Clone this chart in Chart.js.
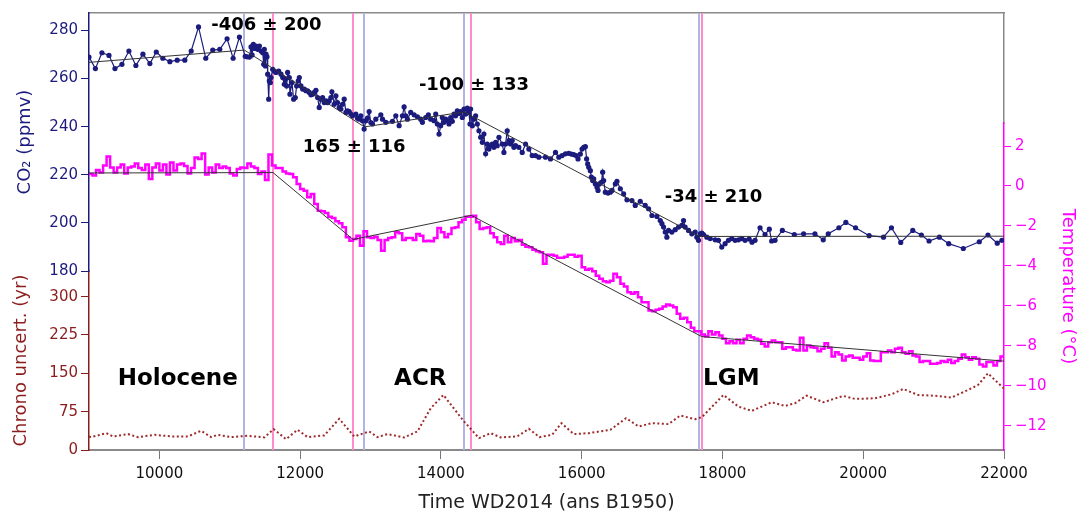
<!DOCTYPE html>
<html>
<head>
<meta charset="utf-8">
<script src="https://cdn.jsdelivr.net/npm/chart.js@4.4.1/dist/chart.umd.min.js"></script>
<style>
  body { margin: 0; background: #fff; }
  #wrap { width: 1079px; height: 515px; }
</style>
</head>
<body>
<div id="wrap"><canvas id="chart" width="1079" height="515"></canvas></div>
<script>
// ---- data ----
const co2Years = [
  9000, 9091, 9184, 9284, 9369, 9468, 9567, 9666, 9766, 9865, 9956, 10049, 10149, 10253, 10361, 10452,
  10556, 10659, 10758, 10858, 10962, 11048, 11137, 11220, 11245, 11279, 11302, 11317, 11335, 11355, 11373,
  11397, 11421, 11444, 11468, 11482, 11491, 11506, 11515, 11529, 11539, 11553, 11562, 11577, 11586, 11610,
  11633, 11657, 11695, 11728, 11752, 11775, 11789, 11808, 11822, 11846, 11855, 11884, 11907, 11931, 11950,
  11973, 11988, 12011, 12035, 12059, 12082, 12106, 12130, 12153, 12177, 12201, 12224, 12248, 12271, 12295,
  12319, 12342, 12366, 12390, 12413, 12437, 12451, 12484, 12508, 12531, 12555, 12579, 12602, 12626, 12650,
  12673, 12697, 12720, 12744, 12791, 12815, 12839, 12862, 12886, 12909, 12933, 12957, 12980, 13004, 13028,
  13075, 13146, 13170, 13217, 13311, 13359, 13406, 13453, 13477, 13500, 13524, 13571, 13619, 13666, 13713,
  13737, 13784, 13822, 13855, 13902, 13926, 13949, 13973, 13997, 14020, 14044, 14068, 14091, 14115, 14139,
  14162, 14186, 14209, 14233, 14257, 14280, 14304, 14328, 14351, 14375, 14398, 14413, 14422, 14446, 14469,
  14493, 14517, 14540, 14564, 14588, 14611, 14635, 14658, 14682, 14706, 14729, 14753, 14777, 14800, 14824,
  14871, 14895, 14918, 14942, 14966, 14989, 15013, 15037, 15060, 15107, 15155, 15202, 15249, 15297, 15344,
  15391, 15486, 15557, 15628, 15675, 15722, 15769, 15816, 15854, 15887, 15920, 15948, 15981, 16005, 16029,
  16052, 16070, 16085, 16100, 16123, 16137, 16156, 16171, 16194, 16218, 16232, 16251, 16279, 16298, 16312,
  16336, 16374, 16407, 16431, 16478, 16501, 16549, 16596, 16643, 16714, 16761, 16832, 16903, 16950, 16998,
  17069, 17116, 17140, 17163, 17187, 17210, 17234, 17281, 17329, 17376, 17423, 17447, 17470, 17518, 17565,
  17612, 17636, 17660, 17683, 17707, 17730, 17778, 17825, 17896, 17943, 17990, 18038, 18085, 18132, 18180,
  18227, 18274, 18321, 18380, 18420, 18463, 18534, 18605, 18666, 18699, 18747, 18851, 19021, 19153, 19314,
  19432, 19503, 19654, 19753, 19891, 20084, 20288, 20401, 20533, 20704, 20826, 20935, 21082, 21214, 21422,
  21649, 21772, 21904, 21970
];
const co2Values = [
  268.9, 264.1, 270.7, 269.6, 264.1, 265.9, 271.4, 265.4, 270.1, 266.2, 271.0, 268.4, 267.0, 267.6, 267.6, 271.4,
  281.4, 268.4, 271.8, 272.1, 276.5, 268.4, 277.2, 269.2, 269.0, 268.9, 273.1, 269.8, 274.2, 272.5, 273.5,
  272.1, 273.5, 271.4, 270.7, 265.9, 272.1, 265.2, 270.1, 269.0, 261.8, 251.4, 259.0, 258.3, 260.4, 263.8,
  263.1, 262.5, 263.1, 261.8, 260.4, 257.6, 259.7, 256.9, 262.5, 260.4, 253.5, 258.3, 251.4, 252.1, 256.9,
  259.0, 260.4, 256.9, 255.6, 255.6, 254.9, 254.9, 254.2, 253.2, 253.5, 254.2, 255.1, 252.1, 248.0, 251.4,
  252.1, 250.0, 250.7, 250.0, 250.7, 252.1, 254.5, 249.3, 252.8, 250.0, 248.0, 247.3, 249.3, 251.4, 245.9,
  246.6, 246.3, 245.2, 244.5, 245.2, 243.5, 243.1, 244.5, 242.4, 239.0, 242.4, 243.5, 246.3, 241.7, 241.1,
  243.1, 244.9, 243.1, 241.8, 242.2, 244.5, 240.4, 244.5, 248.2, 244.5, 243.1, 245.9, 244.9, 244.1, 243.1,
  241.8, 243.8, 244.9, 243.1, 242.5, 245.2, 241.1, 236.9, 240.4, 243.8, 241.8, 243.1, 242.5, 241.1, 243.8,
  242.2, 245.2, 244.5, 246.6, 245.5, 246.3, 243.8, 247.3, 245.2, 247.7, 245.9, 241.1, 247.3, 240.4, 243.1,
  244.5, 241.1, 238.3, 235.6, 233.5, 236.9, 228.7, 232.8, 230.7, 232.1, 232.8, 231.4, 233.5, 232.1, 235.6,
  232.8, 229.3, 232.8, 238.3, 234.2, 232.8, 234.2, 231.4, 232.1, 231.4, 229.3, 232.8, 230.7, 228.0, 228.0,
  227.3, 227.3, 226.6, 229.3, 227.3, 228.0, 228.7, 228.9, 228.6, 228.4, 228.0, 226.6, 228.6, 230.7, 231.4,
  231.7, 226.6, 224.5, 223.1, 221.7, 219.0, 217.6, 218.3, 216.2, 214.8, 213.5, 216.2, 216.9, 221.1, 217.6,
  212.8, 212.4, 212.8, 213.5, 216.2, 217.3, 214.2, 212.1, 209.6, 209.3, 207.3, 209.0, 207.3, 205.9, 203.1,
  202.7, 201.0, 199.7, 198.3, 196.2, 194.1, 196.9, 196.2, 197.2, 198.3, 199.0, 201.0, 198.3, 196.9, 195.5,
  196.2, 194.1, 192.8, 195.5, 195.8, 195.2, 194.1, 193.5, 193.0, 192.8, 190.0, 191.4, 192.8, 193.5, 192.8,
  193.0, 193.5, 192.8, 193.3, 192.0, 192.8, 198.0, 195.2, 197.4, 192.5, 192.8, 196.9, 195.2, 195.5, 195.5,
  193.0, 195.5, 198.0, 200.2, 198.0, 194.7, 194.1, 198.0, 191.9, 196.9, 195.0, 192.5, 194.1, 191.4, 189.4,
  192.2, 195.0, 191.6, 192.8
];

const tempYears = [
  9000, 9050, 9100, 9150, 9200, 9250, 9300, 9350, 9400, 9450,
  9500, 9550, 9600, 9650, 9700, 9750, 9800, 9850, 9900, 9950,
  10000, 10050, 10100, 10150, 10200, 10250, 10300, 10350, 10400, 10450,
  10500, 10550, 10600, 10650, 10700, 10750, 10800, 10850, 10900, 10950,
  11000, 11050, 11100, 11150, 11200, 11250, 11300, 11350, 11400, 11450,
  11500, 11550, 11600, 11650, 11700, 11750, 11800, 11850, 11900, 11950,
  12000, 12050, 12100, 12150, 12200, 12250, 12300, 12350, 12400, 12450,
  12500, 12550, 12600, 12650, 12700, 12750, 12800, 12850, 12900, 12950,
  13000, 13050, 13100, 13150, 13200, 13250, 13300, 13350, 13400, 13450,
  13500, 13550, 13600, 13650, 13700, 13750, 13800, 13850, 13900, 13950,
  14000, 14050, 14100, 14150, 14200, 14250, 14300, 14350, 14400, 14450,
  14500, 14550, 14600, 14650, 14700, 14750, 14800, 14850, 14900, 14950,
  15000, 15050, 15100, 15150, 15200, 15250, 15300, 15350, 15400, 15450,
  15500, 15550, 15600, 15650, 15700, 15750, 15800, 15850, 15900, 15950,
  16000, 16050, 16100, 16150, 16200, 16250, 16300, 16350, 16400, 16450,
  16500, 16550, 16600, 16650, 16700, 16750, 16800, 16850, 16900, 16950,
  17000, 17050, 17100, 17150, 17200, 17250, 17300, 17350, 17400, 17450,
  17500, 17550, 17600, 17650, 17700, 17750, 17800, 17850, 17900, 17950,
  18000, 18050, 18100, 18150, 18200, 18250, 18300, 18350, 18400, 18450,
  18500, 18550, 18600, 18650, 18700, 18750, 18800, 18850, 18900, 18950,
  19000, 19050, 19100, 19150, 19200, 19250, 19300, 19350, 19400, 19450,
  19500, 19550, 19600, 19650, 19700, 19750, 19800, 19850, 19900, 19950,
  20000, 20050, 20100, 20150, 20200, 20250, 20300, 20350, 20400, 20450,
  20500, 20550, 20600, 20650, 20700, 20750, 20800, 20850, 20900, 20950,
  21000, 21050, 21100, 21150, 21200, 21250, 21300, 21350, 21400, 21450,
  21500, 21550, 21600, 21650, 21700, 21750, 21800, 21850, 21900, 21950,
  22000
];
const tempValues = [
  0.60, 0.52, 0.80, 0.68, 1.02, 1.47, 0.93, 0.68, 0.93, 1.07,
  0.63, 0.93, 0.97, 1.13, 0.90, 0.80, 1.07, 0.35, 0.93, 1.13,
  0.77, 1.07, 0.57, 1.18, 0.77, 1.07, 1.13, 1.00, 0.63, 0.90,
  1.43, 1.35, 1.63, 0.57, 0.93, 0.68, 1.07, 0.90, 0.97, 0.90,
  0.63, 0.52, 0.85, 0.93, 0.90, 1.13, 0.97, 0.90, 0.60, 0.73,
  0.30, 1.57, 1.02, 0.90, 0.90, 0.73, 0.63, 0.60, 0.43, 0.10,
  -0.15, -0.24, -0.57, -0.40, -0.90, -1.24, -1.27, -1.35, -1.54, -1.60,
  -1.77, -1.87, -2.07, -2.57, -2.74, -2.65, -2.49, -2.99, -2.27, -2.57,
  -2.60, -2.54, -2.70, -3.24, -2.70, -2.60, -2.57, -2.32, -2.37, -2.70,
  -2.60, -2.60, -2.70, -2.40, -2.49, -2.77, -2.74, -2.77, -2.60, -2.10,
  -2.32, -2.57, -2.40, -2.10, -2.07, -1.82, -1.69, -1.54, -1.54, -1.49,
  -1.82, -2.15, -2.10, -2.07, -2.37, -2.57, -2.82, -2.90, -2.49, -2.82,
  -2.60, -2.77, -2.70, -2.94, -3.04, -3.07, -3.20, -3.27, -3.32, -3.90,
  -3.44, -3.44, -3.49, -3.60, -3.60, -3.54, -3.44, -3.44, -3.54, -3.49,
  -4.07, -4.20, -4.15, -4.27, -4.49, -4.65, -4.77, -4.82, -4.74, -4.40,
  -4.57, -4.90, -5.04, -5.32, -5.40, -5.32, -5.57, -5.82, -5.82, -6.24,
  -6.27, -6.20, -6.15, -6.04, -5.94, -5.99, -6.07, -6.40, -6.65, -6.60,
  -6.82, -7.10, -7.27, -7.27, -7.44, -7.54, -7.27, -7.44, -7.32, -7.49,
  -7.65, -7.87, -7.77, -7.87, -7.70, -7.87, -7.65, -7.49, -7.57, -7.65,
  -7.70, -7.90, -8.04, -7.82, -7.74, -7.82, -7.82, -8.15, -8.07, -8.07,
  -8.20, -8.24, -7.60, -8.24, -7.99, -8.07, -8.10, -8.27, -8.15, -7.87,
  -8.10, -8.54, -8.32, -8.44, -8.74, -8.54, -8.49, -8.60, -8.60, -8.70,
  -8.54, -8.37, -8.74, -8.77, -8.77, -8.32, -8.32, -8.24, -8.32, -8.15,
  -8.10, -8.32, -8.40, -8.27, -8.49, -8.54, -8.82, -8.77, -8.77, -8.90,
  -8.90, -8.87, -8.77, -8.82, -8.70, -8.87, -8.77, -8.65, -8.44, -8.57,
  -8.70, -8.57, -8.65, -8.94, -9.04, -8.82, -8.82, -8.99, -8.77, -8.54,
  -8.40
];

const chronoYears = [
  9000, 9034, 9246, 9341, 9554, 9695, 9932, 10168, 10404, 10593, 10735, 10830, 11019, 11255, 11492, 11624,
  11799, 11964, 12106, 12342, 12555, 12768, 12981, 13099, 13241, 13477, 13666, 13855, 14035, 14328, 14541,
  14706, 14848, 15084, 15250, 15400, 15580, 15712, 15887, 16100, 16407, 16630, 16809, 16998, 17234, 17400,
  17613, 17707, 18014, 18227, 18416, 18700, 18889, 19031, 19196, 19433, 19716, 19882, 20165, 20402, 20567,
  20780, 21063, 21252, 21489, 21631, 21772, 22000
];
const chronoValues = [
  26, 25.2, 33.0, 26.5, 31.1, 25.2, 29.8, 26.5, 26.5, 37.6, 25.2, 29.8, 25.2, 27.8, 24.6, 40.8,
  21.3, 39.5, 25.2, 28.5, 61.0, 26.5, 36.3, 25.2, 31.1, 24.6, 36.3, 81.7, 107.7, 55.8, 23.3,
  33.0, 24.6, 26.5, 41.5, 25.2, 29.8, 52.5, 31.1, 33.0, 39.5, 62.3, 46.0, 52.5, 50.6, 67.5,
  60.3, 64.2, 107.7, 85.0, 76.5, 93.4, 86.3, 91.5, 106.4, 93.4, 105.8, 99.9, 101.2, 109.0, 119.4,
  107.7, 105.8, 102.5, 117.5, 127.2, 150.0, 120.0
];

// piecewise-linear fits (break years are also the vertical marker lines)
const co2FitYears = [9000, 11207, 12913, 14330, 17671, 22000];
const co2FitValues = [266.7, 271.8, 239.9, 246.1, 194.4, 194.5];
const tempFitYears = [9000, 11614, 12752, 14429, 17704, 22000];
const tempFitValues = [0.65, 0.67, -2.68, -1.47, -7.54, -8.77];

const slopeLabels = ['-406 ± 200', '165 ± 116', '-100 ± 133', '-34 ± 210'];
const periodLabels = ['Holocene', 'ACR', 'LGM'];

const xTicks = [10000, 12000, 14000, 16000, 18000, 20000, 22000];
const co2Ticks = [180, 200, 220, 240, 260, 280];
const chronoTicks = [0, 75, 150, 225, 300];
const tempTicks = [2, 0, -2, -4, -6, -8, -10, -12];

// ---- styling ----
const NAVY = '#1b1b7e';
const MAGENTA = '#ff00ff';
const CHRONO = '#9e2b2b';
const CHRONO_AXIS = '#8b1c1c';
const FRAME = '#8a8a8a';
const LAVENDER = '#b2b4e2';
const PINK = '#ff8cc8';

Chart.defaults.font.family = "'DejaVu Sans', sans-serif";

const pairs = (xs, ys) => xs.map((x, i) => ({ x: x, y: ys[i] }));
const fixedTicks = list => scale => { scale.ticks = list.map(v => ({ value: v })); };

// label anchors, in data units of the axis they belong to
const slopeAnchors = [[11520, 282.2], [12768, 231.3], [14470, 257.3], [17873, 210.6]];
const periodAnchors = [[10261, 139], [13707, 139], [18126, 139]];

const overlay = {
  id: 'overlay',
  beforeDatasetsDraw(chart) {
    const { ctx, chartArea, scales } = chart;
    ctx.save();
    ctx.lineWidth = 2;
    const vline = (yr, color) => {
      const px = Math.round(scales.x.getPixelForValue(yr));
      ctx.strokeStyle = color;
      ctx.beginPath();
      ctx.moveTo(px, chartArea.top);
      ctx.lineTo(px, chartArea.bottom);
      ctx.stroke();
    };
    co2FitYears.slice(1, -1).forEach(yr => vline(yr, LAVENDER));
    tempFitYears.slice(1, -1).forEach(yr => vline(yr, PINK));
    ctx.restore();
  },
  afterDatasetsDraw(chart) {
    const { ctx, scales } = chart;
    ctx.save();
    ctx.fillStyle = '#000';
    ctx.textAlign = 'center';
    ctx.textBaseline = 'middle';
    ctx.font = "bold 18px 'DejaVu Sans'";
    slopeLabels.forEach((t, i) => {
      const [xv, yv] = slopeAnchors[i];
      ctx.fillText(t, scales.x.getPixelForValue(xv), scales.co2.getPixelForValue(yv));
    });
    ctx.font = "bold 23px 'DejaVu Sans'";
    periodLabels.forEach((t, i) => {
      const [xv, yv] = periodAnchors[i];
      ctx.fillText(t, scales.x.getPixelForValue(xv), scales.chrono.getPixelForValue(yv));
    });
    ctx.restore();
  }
};

new Chart(document.getElementById('chart'), {
  type: 'line',
  data: {
    datasets: [
      { label: 'CO2 fit', data: pairs(co2FitYears, co2FitValues), yAxisID: 'co2',
        borderColor: '#333', borderWidth: 1, pointRadius: 0 },
      { label: 'Temp fit', data: pairs(tempFitYears, tempFitValues), yAxisID: 'temp',
        borderColor: '#333', borderWidth: 1, pointRadius: 0 },
      { label: 'CO2', data: pairs(co2Years, co2Values), yAxisID: 'co2',
        borderColor: NAVY, borderWidth: 1.2, pointRadius: 2.6, pointBackgroundColor: NAVY,
        pointBorderWidth: 0 },
      { label: 'Temperature', data: pairs(tempYears, tempValues), yAxisID: 'temp',
        borderColor: MAGENTA, borderWidth: 2.5, pointRadius: 0, stepped: true },
      { label: 'Chrono', data: pairs(chronoYears, chronoValues), yAxisID: 'chrono',
        borderColor: CHRONO, borderWidth: 2, borderDash: [2, 2.5], pointRadius: 0 }
    ]
  },
  options: {
    responsive: false,
    animation: false,
    layout: { padding: 0, autoPadding: false },
    plugins: { legend: { display: false }, tooltip: { enabled: false } },
    scales: {
      x: {
        type: 'linear', position: 'bottom', min: 9000, max: 22000,
        afterBuildTicks: fixedTicks(xTicks),
        afterFit: s => { s.height = 65; },
        ticks: { color: '#111', font: { size: 15 }, padding: 6, maxRotation: 0, autoSkip: false,
                 callback: v => String(v) },
        grid: { drawOnChartArea: false, tickLength: 9, color: '#777' },
        border: { color: FRAME, width: 2 },
        title: { display: true, text: 'Time WD2014 (ans B1950)', color: '#222',
                 font: { size: 19 }, padding: { top: 4, bottom: 1 } }
      },
      xTop: {
        type: 'linear', position: 'top', min: 9000, max: 22000,
        afterFit: s => { s.height = 12; },
        ticks: { display: false }, grid: { display: false },
        border: { color: FRAME, width: 1.5 }
      },
      chrono: {
        type: 'linear', position: 'left', stack: 'left', stackWeight: 179.3, min: 0, max: 350,
        afterBuildTicks: fixedTicks(chronoTicks),
        afterFit: s => { s.width = 89; },
        ticks: { color: CHRONO_AXIS, font: { size: 15 }, padding: 3 },
        grid: { drawOnChartArea: false, tickLength: 8, color: CHRONO_AXIS },
        border: { color: CHRONO_AXIS, width: 1.5 },
        title: { display: true, text: 'Chrono uncert. (yr)', color: CHRONO_AXIS,
                 font: { size: 18 }, padding: { top: 11, bottom: 0 } }
      },
      co2: {
        type: 'linear', position: 'left', stack: 'left', stackWeight: 258.7, min: 180, max: 287.2,
        afterBuildTicks: fixedTicks(co2Ticks),
        afterFit: s => { s.width = 89; },
        ticks: { color: NAVY, font: { size: 15 }, padding: 3 },
        grid: { drawOnChartArea: false, tickLength: 8, color: NAVY },
        border: { color: NAVY, width: 1.5 },
        title: { display: true, text: 'CO₂ (ppmv)', color: NAVY,
                 font: { size: 18 }, padding: { top: 15, bottom: 0 } }
      },
      rightTop: {
        type: 'linear', position: 'right', stack: 'right', stackWeight: 110.3, min: 0, max: 1,
        afterFit: s => { s.width = 75; },
        ticks: { display: false }, grid: { display: false },
        border: { color: FRAME, width: 1.5 }
      },
      temp: {
        type: 'linear', position: 'right', stack: 'right', stackWeight: 327.7, min: -13.22, max: 3.15,
        afterBuildTicks: fixedTicks(tempTicks),
        afterFit: s => { s.width = 75; },
        ticks: { color: MAGENTA, font: { size: 15 }, padding: 4,
                 callback: v => String(v).replace('-', '\u2212') },
        grid: { drawOnChartArea: false, tickLength: 7, color: MAGENTA },
        border: { color: MAGENTA, width: 1.5 },
        title: { display: true, text: 'Temperature (°C)', color: MAGENTA,
                 font: { size: 18 }, padding: { top: 1, bottom: 0 } }
      }
    }
  },
  plugins: [overlay]
});
</script>
</body>
</html>
